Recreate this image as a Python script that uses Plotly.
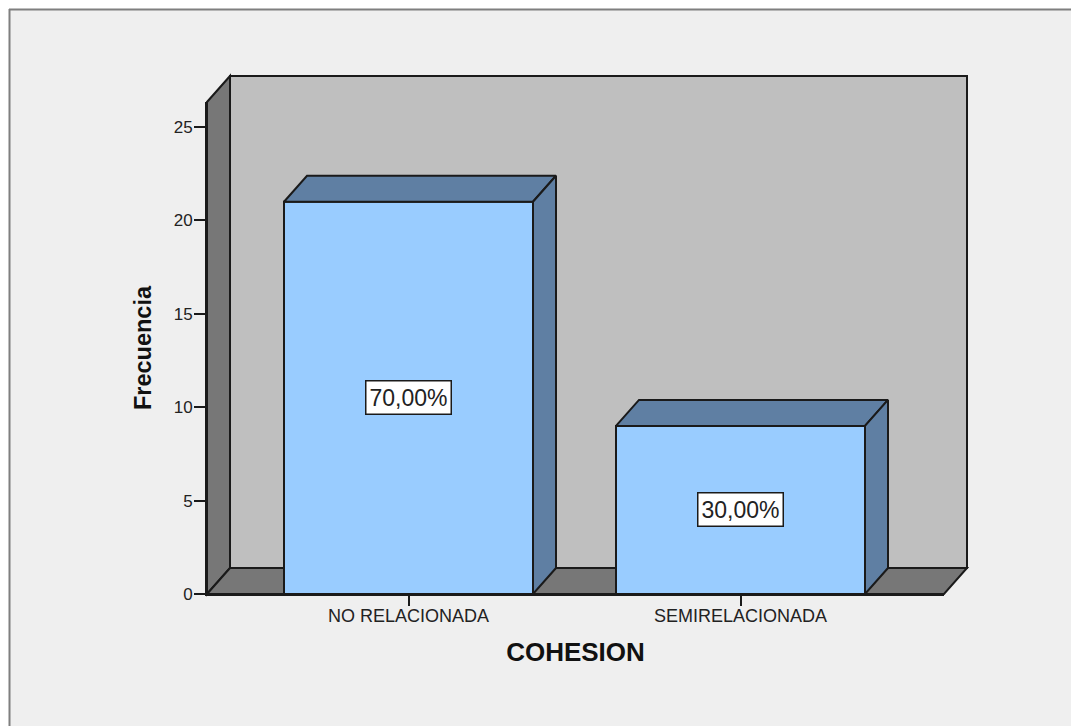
import plotly.graph_objects as go

# Data
categories = ["NO RELACIONADA", "SEMIRELACIONADA"]
frequencies = [21, 9]
percent_labels = ["70,00%", "30,00%"]
y_ticks = [0, 5, 10, 15, 20, 25]
x_title = "COHESION"
y_title = "Frecuencia"

# Layout constants
W, H = 1071, 726
L, R, T, B = 207, 944, 102, 594
PX_PER_CAT = 332.0
PX_PER_UNIT = 18.68
DX_PX, DY_PX = 23, 26
BAR_WIDTH = 249 / PX_PER_CAT
dx = DX_PX / PX_PER_CAT
dy = DY_PX / PX_PER_UNIT
positions = list(range(len(categories)))

FRONT = "#99CCFF"
SHADE = "#5F7FA3"
WALL = "#BFBFBF"
WALL_DARK = "#777777"
BG = "#EFEFEF"
INK = "#1a1a1a"
FONT = "Liberation Sans"


def px(x):
    return (x - L) / (R - L)


def py(y):
    return (B - y) / (B - T)


def wall(points, color):
    path = "M " + " L ".join(f"{px(x):.5f},{py(y):.5f}" for x, y in points) + " Z"
    return dict(type="path", xref="paper", yref="paper", path=path, fillcolor=color,
                line=dict(color=INK, width=2), layer="below")


shapes = [
    dict(type="rect", xref="paper", yref="paper", x0=px(9), x1=px(W + 5), y0=py(9), y1=py(H + 5),
         fillcolor=BG, line=dict(width=0), layer="below"),
    dict(type="line", xref="paper", yref="paper", x0=px(9.5), x1=px(9.5), y0=py(9), y1=py(H),
         line=dict(color="#7f7f7f", width=2), layer="below"),
    dict(type="line", xref="paper", yref="paper", x0=px(9), x1=px(W), y0=py(9.5), y1=py(9.5),
         line=dict(color="#7f7f7f", width=2), layer="below"),
    wall([(207, 594), (230, 568), (230, 76), (207, 102)], WALL_DARK),
    wall([(230, 76), (967, 76), (967, 568), (230, 568)], WALL),
    wall([(207, 594), (230, 568), (967, 568), (944, 594)], WALL_DARK),
]

fig = go.Figure()

fig.add_trace(go.Bar(
    x=positions, y=frequencies, width=BAR_WIDTH,
    marker=dict(color=FRONT, line=dict(color=INK, width=2)),
    showlegend=False, hoverinfo="skip",
))

for pos, val in zip(positions, frequencies):
    x0, x1 = pos - BAR_WIDTH / 2, pos + BAR_WIDTH / 2
    fig.add_trace(go.Scatter(
        x=[x0, x1, x1 + dx, x0 + dx, x0], y=[val, val, val + dy, val + dy, val],
        mode="lines", fill="toself", fillcolor=SHADE, line=dict(color=INK, width=2),
        cliponaxis=False, showlegend=False, hoverinfo="skip",
    ))
    fig.add_trace(go.Scatter(
        x=[x1, x1 + dx, x1 + dx, x1, x1], y=[0, dy, val + dy, val, 0],
        mode="lines", fill="toself", fillcolor=SHADE, line=dict(color=INK, width=2),
        cliponaxis=False, showlegend=False, hoverinfo="skip",
    ))

annotations = [
    dict(x=pos, y=val / 2, xref="x", yref="y", text=label, showarrow=False,
         font=dict(family=FONT, size=23, color="#222222"), bgcolor="white",
         bordercolor=INK, borderwidth=1.5, width=82, height=30)
    for pos, val, label in zip(positions, frequencies, percent_labels)
]

fig.update_layout(
    width=W, height=H, autosize=False,
    margin=dict(l=L, r=W - R, t=T, b=H - B, pad=0),
    paper_bgcolor="white", plot_bgcolor="rgba(0,0,0,0)",
    font=dict(family=FONT, color="#222222"),
    shapes=shapes, annotations=annotations, showlegend=False,
    xaxis=dict(
        range=[-201.5 / PX_PER_CAT, 1 + 203.5 / PX_PER_CAT],
        tickmode="array", tickvals=positions, ticktext=categories,
        ticks="outside", ticklen=10, tickwidth=2, tickcolor=INK,
        showline=True, linecolor=INK, linewidth=2, showgrid=False, zeroline=False,
        ticklabelstandoff=-6,
        tickfont=dict(size=18, family=FONT, color="#222222"),
        title=dict(text=x_title, standoff=18, font=dict(size=26, family=FONT, color="#111111", weight="bold")),
    ),
    yaxis=dict(
        range=[0, (B - T) / PX_PER_UNIT],
        tickmode="array", tickvals=y_ticks, ticktext=[str(t) for t in y_ticks],
        ticks="outside", ticklen=11, tickwidth=2, tickcolor=INK,
        showline=True, linecolor=INK, linewidth=2, showgrid=False, zeroline=False,
        ticklabelstandoff=-2,
        tickfont=dict(size=17, family=FONT, color="#222222"),
        title=dict(text=y_title, standoff=15, font=dict(size=23.5, family=FONT, color="#111111", weight="bold")),
    ),
)

fig.write_html(
    "out.html",
    config={"displayModeBar": False},
    post_script="document.documentElement.style.overflow='hidden';document.body.style.margin='0';",
)
